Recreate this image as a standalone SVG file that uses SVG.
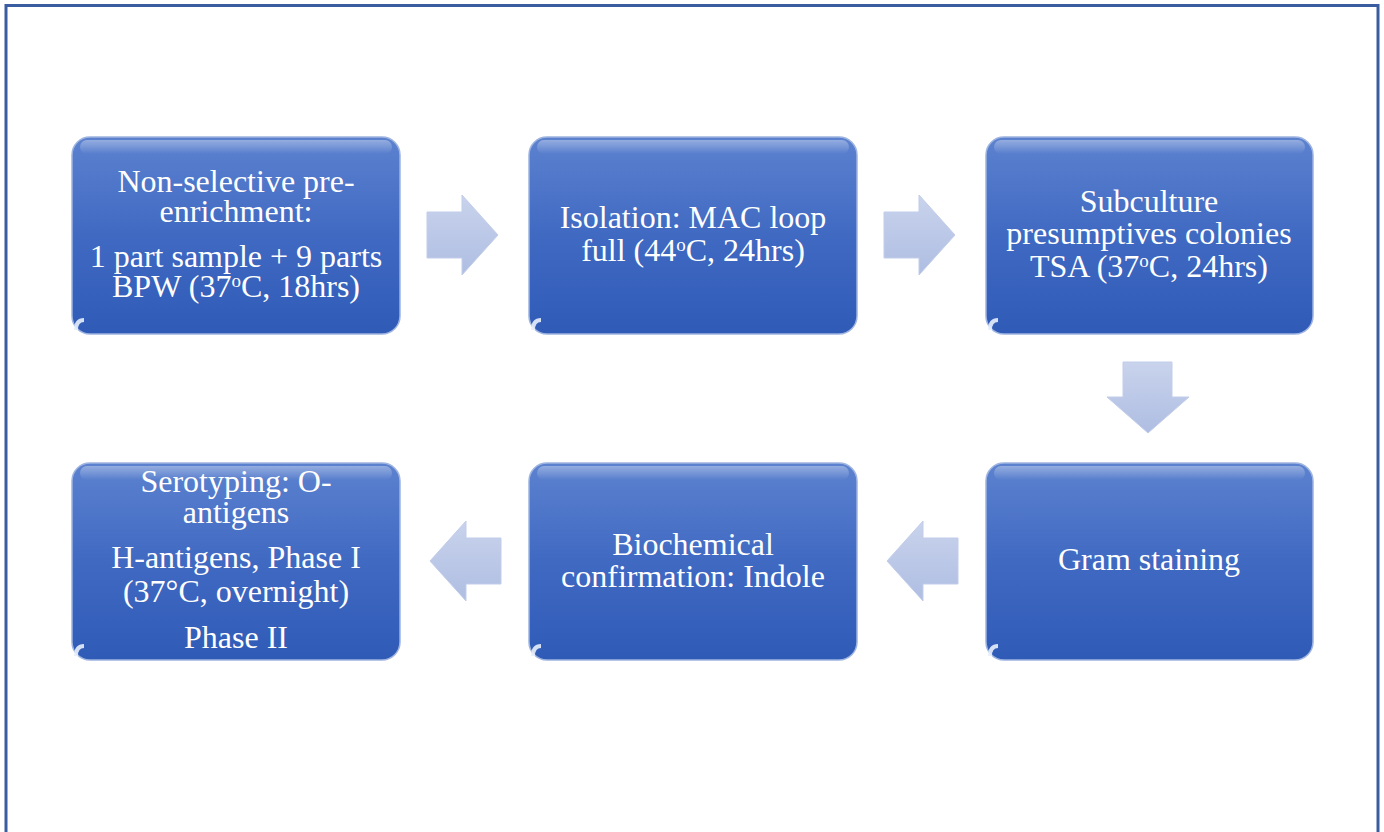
<svg xmlns="http://www.w3.org/2000/svg" width="1384" height="832" viewBox="0 0 1384 832">
<defs>
<linearGradient id="boxg" x1="0" y1="0" x2="0" y2="1">
<stop offset="0" stop-color="#5c82cf"/>
<stop offset="0.5" stop-color="#4069c2"/>
<stop offset="1" stop-color="#2f5bb7"/>
</linearGradient>
<linearGradient id="shine" x1="0" y1="0" x2="0" y2="1">
<stop offset="0" stop-color="#ffffff" stop-opacity="0.35"/>
<stop offset="1" stop-color="#ffffff" stop-opacity="0"/>
</linearGradient>
<linearGradient id="arrg" x1="0" y1="0" x2="0" y2="1">
<stop offset="0" stop-color="#c9d3ec"/>
<stop offset="1" stop-color="#aebde2"/>
</linearGradient>
</defs>
<style>
.box{fill:url(#boxg);stroke:#9fb4e0;stroke-width:1.5}
.sh{fill:url(#shine)}
.cn{fill:#e8eefb;opacity:0.9}
.t{font-family:"Liberation Serif","Times New Roman",serif;font-size:32px;fill:#ffffff;text-anchor:middle}
.arr{fill:url(#arrg);stroke:#c2cde9;stroke-width:1}
</style>
<rect x="6" y="5.5" width="1372" height="840" fill="#ffffff" stroke="#3a5ca0" stroke-width="3"/>

<g id="n1">
<rect class="box" x="72" y="137" width="328" height="197" rx="18"/>
<rect class="sh" x="80" y="140" width="312" height="14" rx="7"/>
<path class="cn" d="M74,330 Q74,318 84,318 L84,322 Q78,322 78,330 Z"/>
<text class="t" x="236" y="192">Non-selective pre-</text>
<text class="t" x="236" y="222">enrichment:</text>
<text class="t" x="236" y="267">1 part sample + 9 parts</text>
<text class="t" x="236" y="297">BPW (37<tspan font-size="19" dy="-10">o</tspan><tspan dy="10">C, 18hrs)</tspan></text>
</g>

<g id="n2">
<rect class="box" x="529" y="137" width="328" height="197" rx="18"/>
<rect class="sh" x="537" y="140" width="312" height="14" rx="7"/>
<path class="cn" d="M531,330 Q531,318 541,318 L541,322 Q535,322 535,330 Z"/>
<text class="t" x="693" y="228">Isolation: MAC loop</text>
<text class="t" x="693" y="261">full (44<tspan font-size="19" dy="-10">o</tspan><tspan dy="10">C, 24hrs)</tspan></text>
</g>

<g id="n3">
<rect class="box" x="986" y="137" width="327" height="197" rx="18"/>
<rect class="sh" x="994" y="140" width="311" height="14" rx="7"/>
<path class="cn" d="M988,330 Q988,318 998,318 L998,322 Q992,322 992,330 Z"/>
<text class="t" x="1149" y="212">Subculture</text>
<text class="t" x="1149" y="244">presumptives colonies</text>
<text class="t" x="1149" y="277">TSA (37<tspan font-size="19" dy="-10">o</tspan><tspan dy="10">C, 24hrs)</tspan></text>
</g>

<g id="n4">
<rect class="box" x="986" y="463" width="327" height="197" rx="18"/>
<rect class="sh" x="994" y="466" width="311" height="14" rx="7"/>
<path class="cn" d="M988,656 Q988,644 998,644 L998,648 Q992,648 992,656 Z"/>
<text class="t" x="1149" y="570">Gram staining</text>
</g>

<g id="n5">
<rect class="box" x="529" y="463" width="328" height="197" rx="18"/>
<rect class="sh" x="537" y="466" width="312" height="14" rx="7"/>
<path class="cn" d="M531,656 Q531,644 541,644 L541,648 Q535,648 535,656 Z"/>
<text class="t" x="693" y="555">Biochemical</text>
<text class="t" x="693" y="587">confirmation: Indole</text>
</g>

<g id="n6">
<rect class="box" x="72" y="463" width="328" height="197" rx="18"/>
<rect class="sh" x="80" y="466" width="312" height="14" rx="7"/>
<path class="cn" d="M74,656 Q74,644 84,644 L84,648 Q78,648 78,656 Z"/>
<text class="t" x="236" y="492">Serotyping: O-</text>
<text class="t" x="236" y="523">antigens</text>
<text class="t" x="236" y="568">H-antigens, Phase I</text>
<text class="t" x="236" y="602">(37°C, overnight)</text>
<text class="t" x="236" y="648">Phase II</text>
</g>

<g id="connectors">
<path class="arr" d="M427,212 L462,212 L462,195 L498,235 L462,275 L462,258 L427,258 Z"/>
<path class="arr" d="M884,212 L919,212 L919,195 L955,235 L919,275 L919,258 L884,258 Z"/>
<path class="arr" d="M1123,362 L1172,362 L1172,397 L1189,397 L1148,433 L1107,397 L1123,397 Z"/>
<path class="arr" d="M958,538 L923,538 L923,521 L887,561 L923,601 L923,584 L958,584 Z"/>
<path class="arr" d="M501,538 L466,538 L466,521 L430,561 L466,601 L466,584 L501,584 Z"/>
</g>
</svg>
